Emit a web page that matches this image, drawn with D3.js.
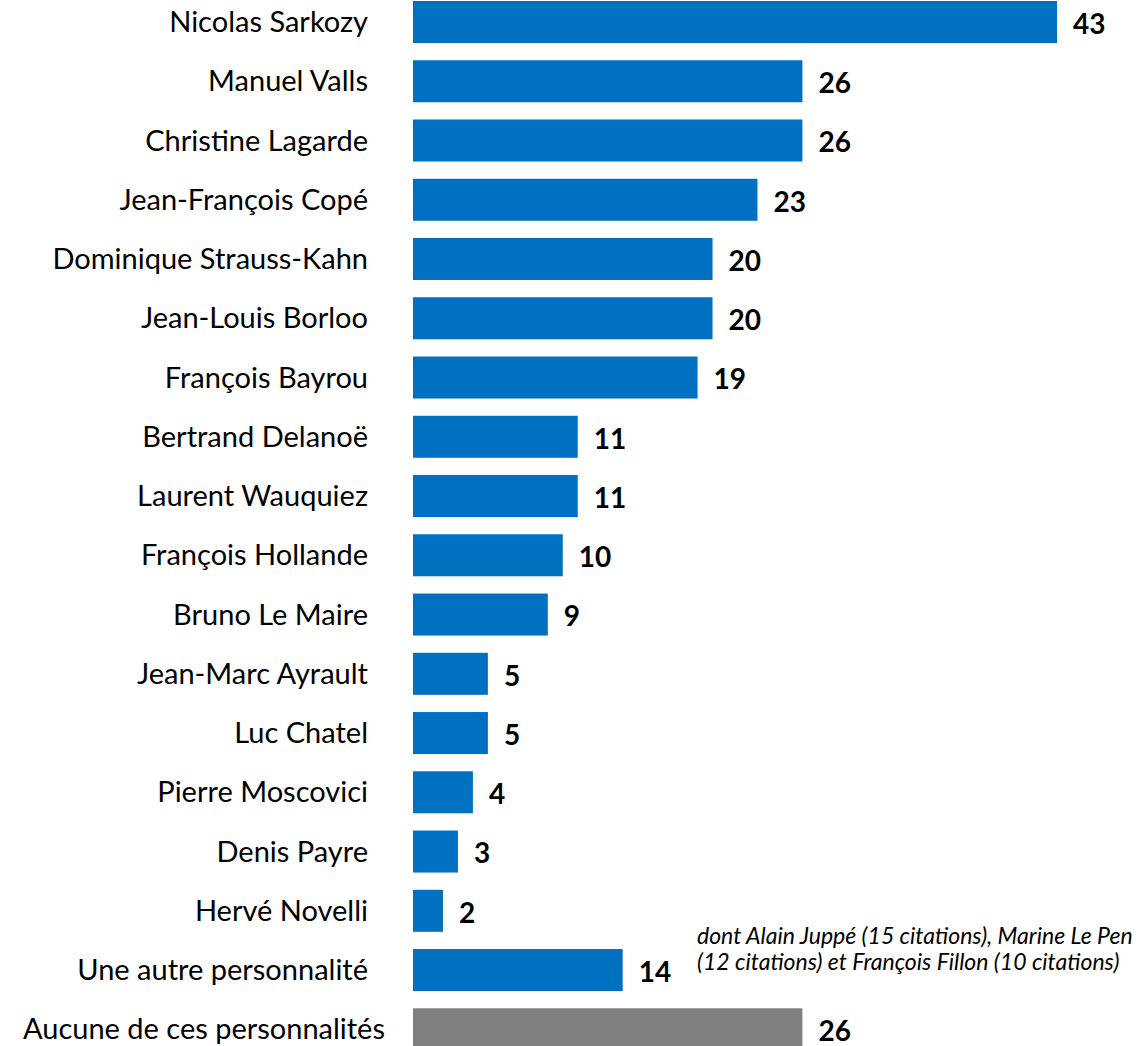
<!DOCTYPE html>
<html>
<head>
<meta charset="utf-8">
<script src="https://cdn.jsdelivr.net/npm/d3@7"></script>
<style>
  html, body { margin: 0; padding: 0; background: #fff; }
  svg { display: block; }
  text { font-family: Lato, "Open Sans", sans-serif; fill: #000; }
</style>
</head>
<body>
<svg id="chart" width="1145" height="1046"></svg>
<script>
// Personalities cited, with share of respondents (%)
const names = [
  "Nicolas Sarkozy", "Manuel Valls", "Christine Lagarde", "Jean-François Copé",
  "Dominique Strauss-Kahn", "Jean-Louis Borloo", "François Bayrou", "Bertrand Delanoë",
  "Laurent Wauquiez", "François Hollande", "Bruno Le Maire", "Jean-Marc Ayrault",
  "Luc Chatel", "Pierre Moscovici", "Denis Payre", "Hervé Novelli",
  "Une autre personnalité", "Aucune de ces personnalités"
];
const values = [43, 26, 26, 23, 20, 20, 19, 11, 11, 10, 9, 5, 5, 4, 3, 2, 14, 26];
const noneLabel = "Aucune de ces personnalités";
const otherLabel = "Une autre personnalité";
const noteLines = [
  "dont Alain Juppé (15 citations), Marine Le Pen",
  "(12 citations) et François Fillon (10 citations)"
];

const data = names.map((n, i) => ({ name: n, value: values[i] }));

const svg = d3.select("#chart");

const x = d3.scaleLinear().domain([0, 43]).range([413, 1057]);
const y = d3.scaleBand()
  .domain(names)
  .range([1, 1050.3])
  .paddingInner(0.291)
  .paddingOuter(0);

const blue = "#0070C0";
const grey = "#808080";

// Bars
svg.append("g").selectAll("rect")
  .data(data)
  .join("rect")
  .attr("x", x(0))
  .attr("y", d => y(d.name))
  .attr("width", d => x(d.value) - x(0))
  .attr("height", y.bandwidth())
  .attr("fill", d => d.name === noneLabel ? grey : blue);

// Category labels (right-aligned left of the bars)
svg.append("g").selectAll("text")
  .data(data)
  .join("text")
  .attr("x", d => d.name === noneLabel ? 385 : 368)
  .attr("y", d => y(d.name) + y.bandwidth() / 2)
  .attr("dy", "0.35em")
  .attr("text-anchor", "end")
  .style("font-size", "29px")
  .text(d => d.name);

// Value labels
svg.append("g").selectAll("text")
  .data(data)
  .join("text")
  .attr("x", d => x(d.value) + 16)
  .attr("y", d => y(d.name) + y.bandwidth() / 2 + 2)
  .attr("dy", "0.35em")
  .style("font-size", "28px")
  .style("font-weight", "bold")
  .text(d => d.value);

// Footnote on "Une autre personnalité"
const noteY = y(otherLabel) + y.bandwidth() / 2;
svg.append("text")
  .attr("x", 697)
  .attr("y", noteY - 26)
  .style("font-size", "23px")
  .style("font-style", "italic")
  .selectAll("tspan")
  .data(noteLines)
  .join("tspan")
  .attr("x", 697)
  .attr("dy", (d, i) => i === 0 ? 0 : 26)
  .text(d => d);
</script>
</body>
</html>
